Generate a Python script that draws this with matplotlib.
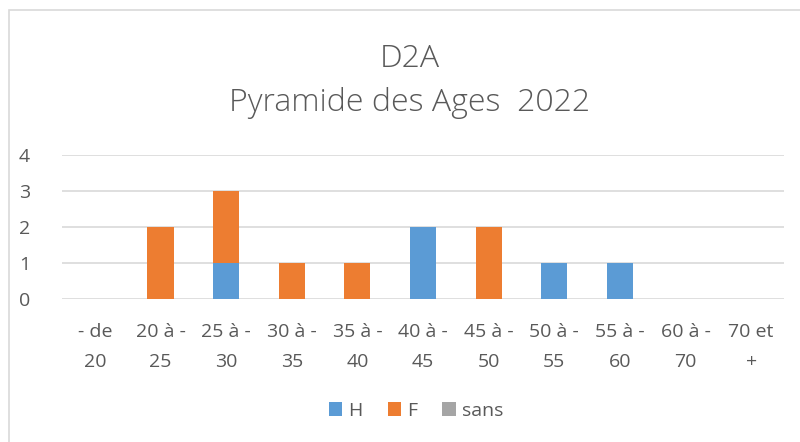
import matplotlib.pyplot as plt
import numpy as np
from matplotlib.patches import Rectangle

plt.rcParams['font.family'] = ['Open Sans', 'DejaVu Sans']

categories = ['- de\n20', '20 à -\n25', '25 à -\n30', '30 à -\n35', '35 à -\n40',
              '40 à -\n45', '45 à -\n50', '50 à -\n55', '55 à -\n60', '60 à -\n70', '70 et\n+']
h_values = [0, 0, 1, 0, 0, 2, 0, 1, 1, 0, 0]
f_values = [0, 2, 2, 1, 1, 0, 2, 0, 0, 0, 0]
sans_values = [0, 0, 0, 0, 0, 0, 0, 0, 0, 0, 0]
yticks = [0, 1, 2, 3, 4]

text_col = '#595959'
grid_col = '#d9d9d9'

fig = plt.figure(figsize=(8, 4.42), dpi=100)
fig.patches.append(Rectangle((9 / 800, -0.05), 1.0, 1 - 10 / 442 + 0.05,
                             transform=fig.transFigure, fill=False,
                             edgecolor=grid_col, linewidth=1.2))

ax = fig.add_axes([0.0775, 0.3235, 0.9025, 0.3258])
x = np.arange(len(categories))
h = np.array(h_values)
f = np.array(f_values)
s = np.array(sans_values)
w = 0.4
ax.bar(x, h, w, color='#5B9BD5', label='H', zorder=3)
ax.bar(x, f, w, bottom=h, color='#ED7D31', label='F', zorder=3)
ax.bar(x, s, w, bottom=h + f, color='#A5A5A5', label='sans', zorder=3)

ax.set_xlim(-0.5, len(categories) - 0.5)
ax.set_ylim(0, 4)
ax.set_yticks(yticks)
ax.yaxis.grid(True, color=grid_col, linewidth=1.2, zorder=0)
ax.set_axisbelow(True)
for sp in ax.spines.values():
    sp.set_visible(False)
ax.tick_params(length=0, labelsize=14, labelcolor=text_col)
ax.tick_params(axis='y', pad=23)
ax.tick_params(axis='x', pad=17)
ax.set_xticks(x)
ax.set_xticklabels(categories, linespacing=1.9)

fig.text(0.5125, 0.866, 'D2A', ha='center', va='center', fontsize=23,
         color=text_col, fontweight='light')
fig.text(0.5125, 0.767, 'Pyramide des Ages  2022', ha='center', va='center',
         fontsize=23, color=text_col, fontweight='light')

fig.legend(loc='center', bbox_to_anchor=(0.52, 0.07), ncol=3, frameon=False,
           fontsize=14, labelcolor=text_col, handlelength=0.7, handleheight=0.7,
           handletextpad=0.3, columnspacing=1.3)

fig.savefig('out.png', dpi=100)
